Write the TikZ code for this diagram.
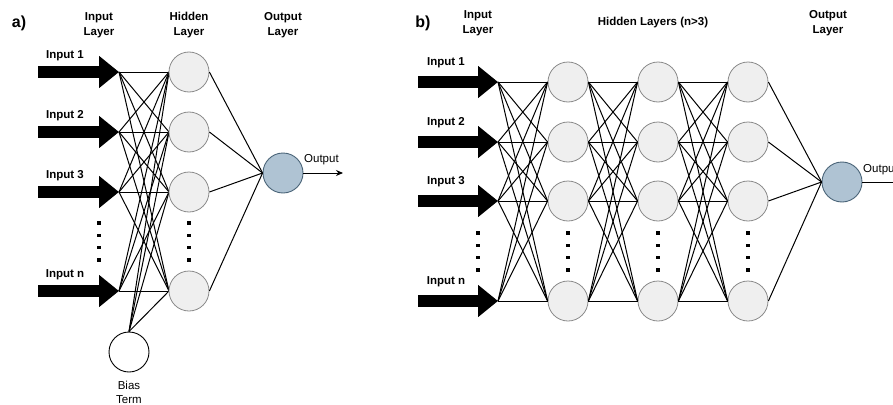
\documentclass[tikz,border=0pt]{standalone}
\usepackage{fontspec}
\setmainfont{Liberation Sans}
\usetikzlibrary{arrows.meta}
\definecolor{hidfill}{HTML}{EFEFEF}
\definecolor{hiddraw}{HTML}{8A8A8A}
\definecolor{outfill}{HTML}{AFC3D3}
\definecolor{outdraw}{HTML}{4A6478}
\begin{document}
\begin{tikzpicture}[x=1pt,y=-1pt,
  hid/.style={circle,draw=hiddraw,fill=hidfill,line width=0.8pt,minimum size=40pt,inner sep=0pt},
  outn/.style={circle,draw=outdraw,fill=outfill,line width=0.9pt,minimum size=40pt,inner sep=0pt},
  biasn/.style={circle,draw=black,fill=white,line width=0.9pt,minimum size=40pt,inner sep=0pt},
  conn/.style={draw=black,line width=1pt},
  bigarrow/.style={line width=12pt,-{Triangle[length=20pt,width=31pt]}},
  outarrow/.style={draw=black,line width=1pt,-{Stealth[length=7pt,width=6pt]}},
  hdr/.style={font=\bfseries\fontsize{11.5}{14.5}\selectfont,align=center,inner sep=0pt},
  lab/.style={font=\bfseries\fontsize{11.5}{13}\selectfont,inner sep=0pt},
  txt/.style={font=\fontsize{11.5}{14}\selectfont,inner sep=0pt,align=center},
  panel/.style={font=\bfseries\fontsize{16}{18}\selectfont,inner sep=0pt},
  dotbox/.style={fill=black,minimum size=3.5pt,inner sep=0pt}]
\useasboundingbox (0,0) rectangle (893,404);
\clip (0,0) rectangle (893,404);

% ---------------- panel a ----------------
\node[panel] (pa) at (19,23) {a)};
\node[hdr] (hai) at (99,25) {Input\\Layer};
\node[hdr] (hah) at (189,25) {Hidden\\Layer};
\node[hdr] (hao) at (283,25) {Output\\Layer};

\foreach \i/\y in {1/72,2/132,3/192,n/291}{
  \coordinate (at\i) at (38,\y);
  \coordinate (ai\i) at (119,\y);
  \draw[bigarrow] (at\i) -- (ai\i);
  \node[lab] (al\i) at (65,\y-16) {Input \i};
}
\node[biasn] (ab) at (129,352) {};
\node[txt] (abl) at (129,392) {Bias\\Term};
\node[outn] (ao) at (283,173) {};
\coordinate (aoe) at (343,173);

\foreach \j/\y in {1/72,2/132,3/192,n/291}{
  \foreach \i in {1,2,3,n}{\draw[conn] (ai\i) -- (189-20,\y);}
  \draw[conn] (ab.north) -- (189-20,\y);
}
\foreach \j/\y in {1/72,2/132,3/192,n/291}{
  \node[hid] (ah\j) at (189,\y) {};
  \draw[conn] (ah\j.east) -- (ao.west);
}
\draw[outarrow] (ao.east) -- (aoe);
\node[txt,anchor=west] (aol) at (304,160) {Output};

\foreach \y in {223,235.3,247.6,260}{
  \node[dotbox] at (99,\y) {};
  \node[dotbox] at (189,\y) {};
}

% ---------------- panel b ----------------
\node[panel] (pb) at (423,23) {b)};
\node[hdr] (hbi) at (478,23) {Input\\Layer};
\node[hdr] (hbh) at (653,23) {Hidden Layers (n>3)};
\node[hdr] (hbo) at (828,23) {Output\\Layer};

\foreach \i/\y in {1/82,2/142,3/201,n/301}{
  \coordinate (bt\i) at (418,\y);
  \coordinate (bi\i) at (498,\y);
  \draw[bigarrow] (bt\i) -- (bi\i);
  \node[lab] (bl\i) at (446,\y-19) {Input \i};
}
\foreach \c/\x in {1/568,2/658,3/748}{
  \foreach \j/\y in {1/82,2/142,3/201,n/301}{
    \node[hid] (b\c h\j) at (\x,\y) {};
  }
}
\node[outn] (bo) at (842,182) {};
\coordinate (boe) at (910,182);

\foreach \i in {1,2,3,n}{
  \foreach \j in {1,2,3,n}{
    \draw[conn] (bi\i) -- (b1h\j.west);
    \draw[conn] (b1h\i.east) -- (b2h\j.west);
    \draw[conn] (b2h\i.east) -- (b3h\j.west);
  }
  \draw[conn] (b3h\i.east) -- (bo.west);
}
\draw[conn] (bo.east) -- (boe);
\node[txt,anchor=west] (bol) at (863,170) {Output};

\foreach \y in {233,245.3,257.6,270}{
  \node[dotbox] at (478,\y) {};
  \node[dotbox] at (568,\y) {};
  \node[dotbox] at (658,\y) {};
  \node[dotbox] at (748,\y) {};
}
\end{tikzpicture}
\end{document}
